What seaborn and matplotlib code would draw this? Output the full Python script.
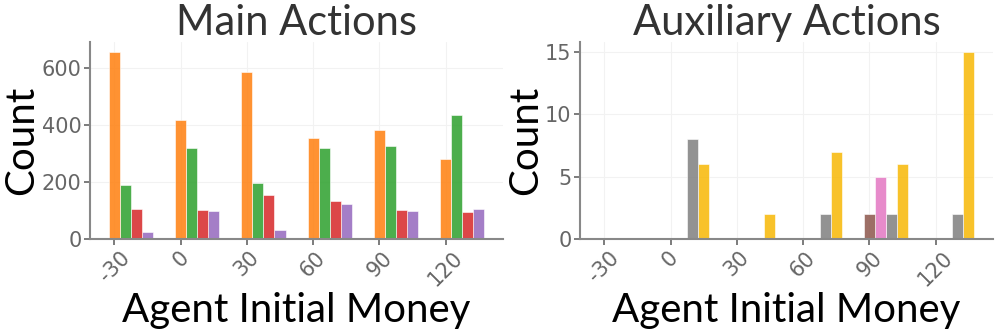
import pandas as pd
import matplotlib
matplotlib.use("Agg")
import matplotlib.pyplot as plt
import seaborn as sns

# initial money settings (x axis)
money = [-30, 0, 30, 60, 90, 120]

# main action counts per money setting
main_actions = ["action_a", "action_b", "action_c", "action_d"]
main_a = [657, 416, 587, 355, 383, 282]
main_b = [191, 320, 196, 318, 327, 433]
main_c = [104, 101, 154, 135, 102, 94]
main_d = [24, 97, 33, 122, 100, 107]

# auxiliary action counts per money setting
aux_actions = ["aux_a", "aux_b", "aux_c", "aux_d"]
aux_a = [0, 0, 0, 0, 2, 0]
aux_b = [0, 0, 0, 0, 5, 0]
aux_c = [0, 8, 0, 2, 2, 2]
aux_d = [0, 6, 2, 7, 6, 15]

main_colors = ["#ff7f0e", "#2ca02c", "#d62728", "#9467bd"]
aux_colors = ["#8c564b", "#e377c2", "#7f7f7f", "#f7b805"]


def to_long(names, series):
    rows = []
    for name, vals in zip(names, series):
        for m, v in zip(money, vals):
            rows.append({"money": m, "action": name, "count": v})
    return pd.DataFrame(rows)


df_main = to_long(main_actions, [main_a, main_b, main_c, main_d])
df_aux = to_long(aux_actions, [aux_a, aux_b, aux_c, aux_d])

# each setting gets its own bin, the gaps in between stay empty
edges = sorted(set([m - 2.5 for m in money] + [m + 17.5 for m in money]))

sns.set_style("whitegrid", {"grid.color": "#f2f2f2", "axes.edgecolor": "#888888",
                            "xtick.bottom": True, "ytick.left": True})
plt.rcParams["font.family"] = ["DejaVu Sans"]
plt.rcParams["axes.unicode_minus"] = False

fig, axes = plt.subplots(1, 2, figsize=(9.97, 3.32), dpi=100)
fig.subplots_adjust(left=0.0903, right=0.996, bottom=0.28, top=0.873, wspace=0.186)

panels = [
    (axes[0], df_main, main_actions, main_colors, "Main Actions"),
    (axes[1], df_aux, aux_actions, aux_colors, "Auxiliary Actions"),
]

for ax, d, order, colors, title in panels:
    sns.histplot(data=d, x="money", weights="count", hue="action", hue_order=order,
                 palette=dict(zip(order, colors)), multiple="dodge", bins=edges,
                 alpha=0.85, legend=False, ax=ax)
    ax.set_title(title, fontsize=30, family="Lato", color="#333333", pad=3)
    ax.set_xlabel("Agent Initial Money", fontsize=29, family="Lato", color="black", labelpad=2)
    ax.set_ylabel("Count", fontsize=29, family="Lato", color="black", labelpad=1)
    ax.set_xticks(money)
    ax.tick_params(axis="both", labelsize=15, colors="#666666", length=4, width=1.2, pad=2)
    plt.setp(ax.get_xticklabels(), rotation=45)
    for side in ["top", "right"]:
        ax.spines[side].set_visible(False)
    for side in ["left", "bottom"]:
        ax.spines[side].set_linewidth(1.5)

axes[1].set_yticks([0, 5, 10, 15])

plt.savefig("out.png", dpi=100)
